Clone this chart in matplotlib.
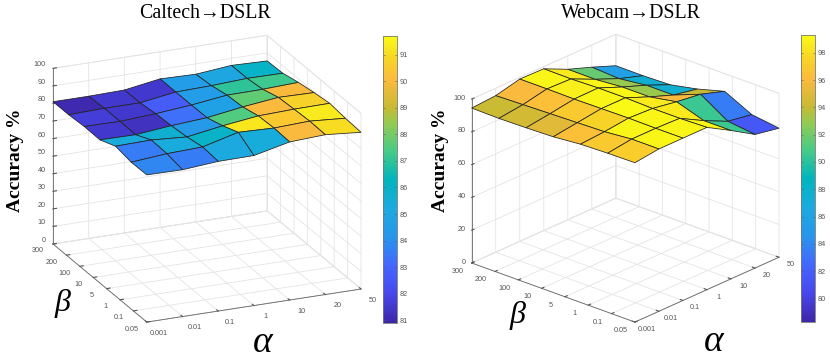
import numpy as np
import matplotlib
matplotlib.use('Agg')
import matplotlib.pyplot as plt
from matplotlib.colors import LinearSegmentedColormap, Normalize
from matplotlib.cm import ScalarMappable
from mpl_toolkits.mplot3d import proj3d

alpha_labels = ['0.001', '0.01', '0.1', '1', '10', '20', '50']
beta_labels = ['0.05', '0.1', '1', '5', '10', '100', '200', '300']

# rows go from beta=0.05 to beta=300, columns from alpha=0.001 to alpha=50
caltech_dslr = [
    [83.8, 83.6, 85.2, 85.4, 90.0, 91.0, 89.2],
    [83.6, 85.3, 86.0, 91.2, 90.5, 91.3, 89.8],
    [85.3, 85.7, 84.3, 87.5, 90.0, 90.7, 90.9],
    [81.5, 81.3, 83.3, 84.7, 87.7, 90.0, 89.6],
    [81.7, 81.5, 82.7, 84.5, 87.0, 87.2, 88.0],
    [81.0, 81.5, 81.5, 84.5, 85.0, 86.0, 85.8],
    [81.0, 81.0, 81.4, 84.6, 84.1, 86.0, 85.4],
]
webcam_dslr = [
    [97.2, 99.0, 99.0, 99.0, 90.5, 81.5, 78.7],
    [97.0, 99.0, 99.0, 98.5, 90.5, 83.5, 81.0],
    [96.5, 97.5, 99.2, 98.5, 96.0, 94.0, 89.2],
    [95.0, 97.0, 99.0, 99.0, 93.0, 87.5, 84.6],
    [94.5, 96.5, 98.8, 99.0, 93.0, 87.5, 81.2],
    [94.2, 96.0, 99.0, 98.5, 91.7, 85.5, 80.7],
    [94.5, 95.5, 99.0, 98.7, 91.8, 86.5, 80.8],
]

parula = LinearSegmentedColormap.from_list('parula', [
    (0.00, (0.2422, 0.1504, 0.6603)),
    (0.10, (0.2803, 0.2782, 0.9221)),
    (0.20, (0.2647, 0.4030, 0.9935)),
    (0.30, (0.1540, 0.5902, 0.9218)),
    (0.40, (0.1085, 0.6669, 0.8734)),
    (0.50, (0.0000, 0.7100, 0.7400)),
    (0.60, (0.2809, 0.7964, 0.5266)),
    (0.70, (0.5900, 0.7900, 0.3100)),
    (0.75, (0.7800, 0.7300, 0.2000)),
    (0.85, (0.9900, 0.7300, 0.2400)),
    (0.92, (0.9700, 0.8300, 0.1500)),
    (1.00, (0.9769, 0.9839, 0.0805)),
])

W, H = 830, 359
fig = plt.figure(figsize=(W / 100, H / 100), dpi=100)
serif = ['Liberation Serif', 'DejaVu Serif']
sans = 'Liberation Sans'
GRAY = '#555555'


def px(x, y):
    return x / W, 1 - y / H


def corner_px(ax, x, y, z):
    a, b, _ = proj3d.proj_transform(x, y, z, ax.get_proj())
    return ax.transData.transform((a, b))


def tick_text(ax, xyz, s, dx, dy, ha='center'):
    p = corner_px(ax, *xyz)
    fig.text((p[0] + dx) / W, (p[1] - dy) / H, s, family=sans, fontsize=5.2, color=GRAY, ha=ha, va='center')


def surface_panel(values, zticks, vmin, vmax, elev, azim, aspect, left_xy, right_xy,
                  alpha_off, beta_off, z_off):
    ax = fig.add_axes([0.1, 0.1, 0.42, 0.42 * W / H], projection='3d', proj_type='ortho')
    ax.set_facecolor('none')
    ax.view_init(elev=elev, azim=azim)
    ax.set_xlim(0, 6, view_margin=0)
    ax.set_ylim(0, 7, view_margin=0)
    ax.set_zlim(0, 100, view_margin=0)

    # surface has 7 rows but the beta axis has 8 ticks
    X, Y = np.meshgrid(np.arange(7), np.linspace(0, 7, 7))
    Z = np.array(values)
    norm = Normalize(vmin, vmax)
    ax.plot_surface(X, Y, Z, facecolors=parula(norm(Z)), shade=False,
                    rstride=1, cstride=1, edgecolor='#222222', linewidth=0.55, antialiased=True)

    ax.set_xticks(range(7), [''] * 7)
    ax.set_yticks(range(8), [''] * 8)
    ax.set_zticks(zticks, [''] * len(zticks))
    ax.tick_params(length=2, width=0.5, colors=GRAY)
    for a in (ax.xaxis, ax.yaxis, ax.zaxis):
        a.set_pane_color((1, 1, 1, 1))
        a.pane.set_edgecolor('#e4e4e4')
        a.pane.set_linewidth(0.6)
        a.line.set_color('#666666')
        a.line.set_linewidth(0.6)
        a._axinfo['grid'].update(color='#e4e4e4', linewidth=0.6)
        a._axinfo['tick'].update(inward_factor=0.0, outward_factor=0.2)
    ax.zaxis.set_ticks_position('upper')

    # line the box up with the corners measured on the reference
    ax.set_box_aspect(aspect)
    fig.canvas.draw()
    p = corner_px(ax, 0, 7, 0)
    q = corner_px(ax, 6, 0, 0)
    tx = np.array([left_xy[0], H - left_xy[1]])
    ty = np.array([right_xy[0], H - right_xy[1]])
    ax.set_box_aspect(aspect, zoom=np.linalg.norm(ty - tx) / np.linalg.norm(q - p))
    fig.canvas.draw()
    p = corner_px(ax, 0, 7, 0)
    pos = ax.get_position()
    ax.set_position([pos.x0 + (tx[0] - p[0]) / W, pos.y0 + (tx[1] - p[1]) / H, pos.width, pos.height])
    fig.canvas.draw()

    # tick labels sit where the reference has them, mplot3d can't offset them freely
    for i, s in enumerate(alpha_labels):
        tick_text(ax, (i, 0, 0), s, *alpha_off)
    for j, s in enumerate(beta_labels):
        tick_text(ax, (0, j, 0), s, *beta_off)
    for v in zticks:
        tick_text(ax, (0, 7, v), str(v), *z_off, ha='right')
    return ax, norm


def colorbar(norm, ticks, x0, x1, y0, y1):
    l, b = px(x0, y1)
    cax = fig.add_axes([l, b, (x1 - x0) / W, (y1 - y0) / H])
    cb = fig.colorbar(ScalarMappable(norm=norm, cmap=parula), cax=cax, ticks=ticks)
    cb.ax.tick_params(labelsize=5.2, colors=GRAY, length=1.5, width=0.4, direction='in',
                      left=True, right=True, pad=2)
    for t in cb.ax.get_yticklabels():
        t.set_family(sans)
    cb.outline.set_edgecolor('#777777')
    cb.outline.set_linewidth(0.6)


def labels(title, title_xy, acc_xy, beta_xy, alpha_xy):
    fig.text(*px(*title_xy), title, family=serif, fontsize=14.3, ha='center', va='center')
    fig.text(*px(*acc_xy), 'Accuracy %', family=serif, fontsize=14, fontweight='bold',
             rotation=90, ha='center', va='center')
    fig.text(*px(*beta_xy), 'β', family=serif, style='italic', fontsize=23, ha='center', va='center')
    fig.text(*px(*alpha_xy), 'α', family=serif, style='italic', fontsize=27, ha='center', va='center')


_, n1 = surface_panel(caltech_dslr, range(0, 101, 10), 80.9, 91.7, 21, -113.3,
                      (233, 237, 188), (53, 244), (361, 289),
                      (12, 11), (-15, 7), (-7.5, -3.5))
colorbar(n1, range(81, 92), 382.7, 396.7, 36, 323)
labels('Caltech→DSLR', (205, 13), (16, 160), (63, 304), (263, 343))

_, n2 = surface_panel(webcam_dslr, range(0, 101, 20), 78.27, 99.3, 23.8, -138.1,
                      (215.6, 219, 179), (471.7, 263), (779, 257),
                      (12, 7.5), (-14, 8.5), (-6, -1))
colorbar(n2, range(80, 99, 2), 800.7, 815.3, 35, 322)
labels('Webcam→DSLR', (631, 13), (440, 160), (518, 316), (714, 342))

fig.savefig('out.png', dpi=100)
